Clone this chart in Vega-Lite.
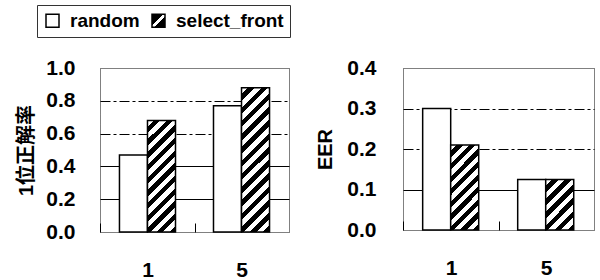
{
  "$schema": "https://vega.github.io/schema/vega-lite/v6.json",
  "padding": {"left": 16, "top": 4, "right": 0, "bottom": 0},
  "spacing": 24,
  "datasets": {
    "acc": [
      {"n": "1", "method": "random", "value": 0.47},
      {"n": "1", "method": "select_front", "value": 0.68},
      {"n": "5", "method": "random", "value": 0.77},
      {"n": "5", "method": "select_front", "value": 0.88}
    ],
    "eer": [
      {"n": "1", "method": "random", "value": 0.30},
      {"n": "1", "method": "select_front", "value": 0.21},
      {"n": "5", "method": "random", "value": 0.125},
      {"n": "5", "method": "select_front", "value": 0.125}
    ]
  },
  "resolve": {"scale": {"y": "independent", "fill": "independent"}},
  "hconcat": [
    {
      "width": 189,
      "height": 164,
      "data": {"name": "acc"},
      "mark": {"type": "bar", "stroke": "black", "strokeWidth": 1.5},
      "encoding": {
        "x": {
          "field": "n", "type": "nominal", "sort": ["1", "5"],
          "scale": {"paddingInner": 0.404, "paddingOuter": 0.207},
          "axis": {"title": null, "labelAngle": 0, "ticks": true, "tickSize": -9, "tickOffset": -47, "labelOffset": 47, "tickColor": "black", "tickWidth": 1, "tickOpacity": 1, "zindex": 1, "labelPadding": 36, "grid": false, "domain": false}
        },
        "xOffset": {"field": "method", "type": "nominal", "sort": ["random", "select_front"], "scale": {"paddingInner": 0, "paddingOuter": 0}},
        "y": {
          "field": "value", "type": "quantitative",
          "scale": {"domain": [0, 1]},
          "axis": {
            "title": "1位正解率", "values": [0, 0.2, 0.4, 0.6, 0.8, 1], "format": ".1f",
            "labelPadding": 25, "titlePadding": 9,
            "gridDash": {"condition": {"test": "datum.value > 0.5", "value": [10, 3, 3, 3]}, "value": []},
            "gridOpacity": {"condition": {"test": "datum.value == 0 || datum.value == 1", "value": 0}, "value": 1}
          }
        },
        "fill": {
          "condition": [
            {"test": "datum.method === 'select_front' && datum.n === '1'", "value": {"gradient": "linear", "x1": 0, "y1": 0, "x2": 0.2955, "y2": 1.1769, "stops": [
              {"offset": 0, "color": "white"}, {"offset": 0.0455, "color": "white"}, {"offset": 0.0455, "color": "black"}, {"offset": 0.0909, "color": "black"},
              {"offset": 0.0909, "color": "white"}, {"offset": 0.1364, "color": "white"}, {"offset": 0.1364, "color": "black"}, {"offset": 0.1818, "color": "black"},
              {"offset": 0.1818, "color": "white"}, {"offset": 0.2273, "color": "white"}, {"offset": 0.2273, "color": "black"}, {"offset": 0.2727, "color": "black"},
              {"offset": 0.2727, "color": "white"}, {"offset": 0.3182, "color": "white"}, {"offset": 0.3182, "color": "black"}, {"offset": 0.3636, "color": "black"},
              {"offset": 0.3636, "color": "white"}, {"offset": 0.4091, "color": "white"}, {"offset": 0.4091, "color": "black"}, {"offset": 0.4545, "color": "black"},
              {"offset": 0.4545, "color": "white"}, {"offset": 0.5, "color": "white"}, {"offset": 0.5, "color": "black"}, {"offset": 0.5455, "color": "black"},
              {"offset": 0.5455, "color": "white"}, {"offset": 0.5909, "color": "white"}, {"offset": 0.5909, "color": "black"}, {"offset": 0.6364, "color": "black"},
              {"offset": 0.6364, "color": "white"}, {"offset": 0.6818, "color": "white"}, {"offset": 0.6818, "color": "black"}, {"offset": 0.7273, "color": "black"},
              {"offset": 0.7273, "color": "white"}, {"offset": 0.7727, "color": "white"}, {"offset": 0.7727, "color": "black"}, {"offset": 0.8182, "color": "black"},
              {"offset": 0.8182, "color": "white"}, {"offset": 0.8636, "color": "white"}, {"offset": 0.8636, "color": "black"}, {"offset": 0.9091, "color": "black"},
              {"offset": 0.9091, "color": "white"}, {"offset": 0.9545, "color": "white"}, {"offset": 0.9545, "color": "black"}, {"offset": 1, "color": "black"}
            ]}},
            {"test": "datum.method === 'select_front' && datum.n === '5'", "value": {"gradient": "linear", "x1": 0, "y1": 0, "x2": 0.2233, "y2": 1.1507, "stops": [
              {"offset": 0, "color": "white"}, {"offset": 0.0385, "color": "white"}, {"offset": 0.0385, "color": "black"}, {"offset": 0.0769, "color": "black"},
              {"offset": 0.0769, "color": "white"}, {"offset": 0.1154, "color": "white"}, {"offset": 0.1154, "color": "black"}, {"offset": 0.1538, "color": "black"},
              {"offset": 0.1538, "color": "white"}, {"offset": 0.1923, "color": "white"}, {"offset": 0.1923, "color": "black"}, {"offset": 0.2308, "color": "black"},
              {"offset": 0.2308, "color": "white"}, {"offset": 0.2692, "color": "white"}, {"offset": 0.2692, "color": "black"}, {"offset": 0.3077, "color": "black"},
              {"offset": 0.3077, "color": "white"}, {"offset": 0.3462, "color": "white"}, {"offset": 0.3462, "color": "black"}, {"offset": 0.3846, "color": "black"},
              {"offset": 0.3846, "color": "white"}, {"offset": 0.4231, "color": "white"}, {"offset": 0.4231, "color": "black"}, {"offset": 0.4615, "color": "black"},
              {"offset": 0.4615, "color": "white"}, {"offset": 0.5, "color": "white"}, {"offset": 0.5, "color": "black"}, {"offset": 0.5385, "color": "black"},
              {"offset": 0.5385, "color": "white"}, {"offset": 0.5769, "color": "white"}, {"offset": 0.5769, "color": "black"}, {"offset": 0.6154, "color": "black"},
              {"offset": 0.6154, "color": "white"}, {"offset": 0.6538, "color": "white"}, {"offset": 0.6538, "color": "black"}, {"offset": 0.6923, "color": "black"},
              {"offset": 0.6923, "color": "white"}, {"offset": 0.7308, "color": "white"}, {"offset": 0.7308, "color": "black"}, {"offset": 0.7692, "color": "black"},
              {"offset": 0.7692, "color": "white"}, {"offset": 0.8077, "color": "white"}, {"offset": 0.8077, "color": "black"}, {"offset": 0.8462, "color": "black"},
              {"offset": 0.8462, "color": "white"}, {"offset": 0.8846, "color": "white"}, {"offset": 0.8846, "color": "black"}, {"offset": 0.9231, "color": "black"},
              {"offset": 0.9231, "color": "white"}, {"offset": 0.9615, "color": "white"}, {"offset": 0.9615, "color": "black"}, {"offset": 1, "color": "black"}
            ]}}
          ],
          "field": "method", "type": "nominal",
          "scale": {"domain": ["random", "select_front"], "range": ["white", {"expr": "{gradient: 'linear', x1: 0, y1: 0, x2: 1, y2: 1, stops: [{offset: 0, color: 'black'}, {offset: 0.42, color: 'black'}, {offset: 0.42, color: 'white'}, {offset: 0.58, color: 'white'}, {offset: 0.58, color: 'black'}, {offset: 1, color: 'black'}]}"}]},
          "legend": {
            "title": null, "orient": "none", "legendX": -63, "legendY": -63, "direction": "horizontal",
            "symbolType": "square", "symbolSize": 169, "symbolStrokeColor": "black", "symbolStrokeWidth": 1.5, "symbolOpacity": 1,
            "labelFont": "Liberation Sans", "labelFontSize": 19, "labelFontWeight": "bold", "labelColor": "black", "labelOffset": 8,
            "columnPadding": 9, "padding": 6, "strokeColor": "#333"
          }
        }
      }
    },
    {
      "width": 191,
      "height": 162,
      "data": {"name": "eer"},
      "mark": {"type": "bar", "stroke": "black", "strokeWidth": 1.5},
      "encoding": {
        "x": {
          "field": "n", "type": "nominal", "sort": ["1", "5"],
          "scale": {"paddingInner": 0.404, "paddingOuter": 0.207},
          "axis": {"title": null, "labelAngle": 0, "ticks": true, "tickSize": -9, "tickOffset": -47.5, "labelOffset": 47.5, "tickColor": "black", "tickWidth": 1, "tickOpacity": 1, "zindex": 1, "labelPadding": 36, "grid": false, "domain": false}
        },
        "xOffset": {"field": "method", "type": "nominal", "sort": ["random", "select_front"], "scale": {"paddingInner": 0, "paddingOuter": 0}},
        "y": {
          "field": "value", "type": "quantitative",
          "scale": {"domain": [0, 0.4]},
          "axis": {
            "title": "EER", "values": [0, 0.1, 0.2, 0.3, 0.4], "format": ".1f",
            "labelPadding": 27, "titlePadding": 11,
            "gridDash": {"condition": {"test": "datum.value > 0.15", "value": [10, 3, 3, 3]}, "value": []},
            "gridOpacity": {"condition": {"test": "datum.value == 0 || datum.value == 0.4", "value": 0}, "value": 1}
          }
        },
        "fill": {
          "condition": [
            {"test": "datum.method === 'select_front' && datum.n === '1'", "value": {"gradient": "linear", "x1": 0, "y1": 0, "x2": 0.3993, "y2": 1.1999, "stops": [
              {"offset": 0, "color": "white"}, {"offset": 0.0556, "color": "white"}, {"offset": 0.0556, "color": "black"}, {"offset": 0.1111, "color": "black"},
              {"offset": 0.1111, "color": "white"}, {"offset": 0.1667, "color": "white"}, {"offset": 0.1667, "color": "black"}, {"offset": 0.2222, "color": "black"},
              {"offset": 0.2222, "color": "white"}, {"offset": 0.2778, "color": "white"}, {"offset": 0.2778, "color": "black"}, {"offset": 0.3333, "color": "black"},
              {"offset": 0.3333, "color": "white"}, {"offset": 0.3889, "color": "white"}, {"offset": 0.3889, "color": "black"}, {"offset": 0.4444, "color": "black"},
              {"offset": 0.4444, "color": "white"}, {"offset": 0.5, "color": "white"}, {"offset": 0.5, "color": "black"}, {"offset": 0.5556, "color": "black"},
              {"offset": 0.5556, "color": "white"}, {"offset": 0.6111, "color": "white"}, {"offset": 0.6111, "color": "black"}, {"offset": 0.6667, "color": "black"},
              {"offset": 0.6667, "color": "white"}, {"offset": 0.7222, "color": "white"}, {"offset": 0.7222, "color": "black"}, {"offset": 0.7778, "color": "black"},
              {"offset": 0.7778, "color": "white"}, {"offset": 0.8333, "color": "white"}, {"offset": 0.8333, "color": "black"}, {"offset": 0.8889, "color": "black"},
              {"offset": 0.8889, "color": "white"}, {"offset": 0.9444, "color": "white"}, {"offset": 0.9444, "color": "black"}, {"offset": 1, "color": "black"}
            ]}},
            {"test": "datum.method === 'select_front' && datum.n === '5'", "value": {"gradient": "linear", "x1": 0, "y1": 0, "x2": 0.6643, "y2": 1.1878, "stops": [
              {"offset": 0, "color": "white"}, {"offset": 0.0833, "color": "white"}, {"offset": 0.0833, "color": "black"}, {"offset": 0.1667, "color": "black"},
              {"offset": 0.1667, "color": "white"}, {"offset": 0.25, "color": "white"}, {"offset": 0.25, "color": "black"}, {"offset": 0.3333, "color": "black"},
              {"offset": 0.3333, "color": "white"}, {"offset": 0.4167, "color": "white"}, {"offset": 0.4167, "color": "black"}, {"offset": 0.5, "color": "black"},
              {"offset": 0.5, "color": "white"}, {"offset": 0.5833, "color": "white"}, {"offset": 0.5833, "color": "black"}, {"offset": 0.6667, "color": "black"},
              {"offset": 0.6667, "color": "white"}, {"offset": 0.75, "color": "white"}, {"offset": 0.75, "color": "black"}, {"offset": 0.8333, "color": "black"},
              {"offset": 0.8333, "color": "white"}, {"offset": 0.9167, "color": "white"}, {"offset": 0.9167, "color": "black"}, {"offset": 1, "color": "black"}
            ]}}
          ],
          "value": "white"
        }
      }
    }
  ],
  "config": {
    "background": "white",
    "view": {"stroke": "black", "strokeWidth": 1, "strokeDash": [1, 1]},
    "legend": {"symbolStrokeColor": "black", "symbolStrokeWidth": 1.5},
    "axis": {
      "labelFont": "Liberation Sans", "labelFontSize": 21, "labelFontWeight": "bold", "labelColor": "black",
      "titleFont": "'Liberation Sans', 'Noto Sans CJK JP'", "titleFontSize": 20, "titleFontWeight": "bold", "titleColor": "black",
      "domain": false
    },
    "axisY": {"ticks": false, "gridColor": "black", "gridWidth": 1}
  }
}
